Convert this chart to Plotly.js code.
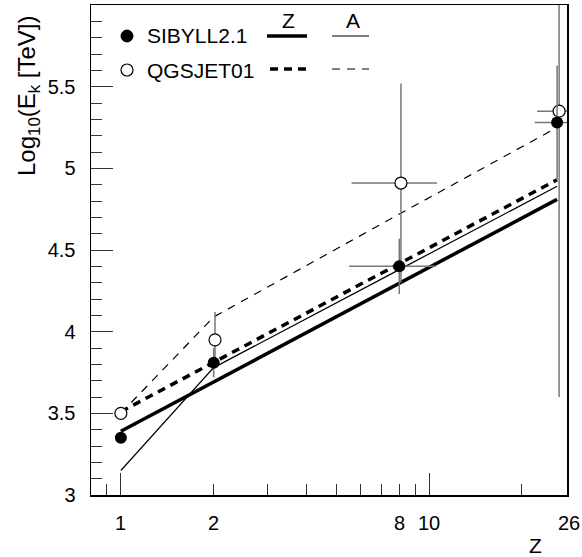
<!DOCTYPE html>
<html>
<head>
<meta charset="utf-8">
<script src="https://cdn.plot.ly/plotly-3.0.1.min.js"></script>
<style>html,body{margin:0;padding:0;background:#fff;}#chart{width:582px;height:557px;}</style>
</head>
<body>
<div id="chart"></div>
<script>
// ---- data ----
const Z = [1, 2, 8, 26];
const sibyllE = [3.35, 3.81, 4.40, 5.28];
const sibyllEerr = [0, 0.09, 0.17, 0.35];
const sibyllZerr = [0, 0, 2.5, 4];

const qgsZ = [1, 2.02, 8.1, 26.4];
const qgsE = [3.50, 3.95, 4.91, 5.35];
const qgsEerr = [0, 0.17, 0.61, 1.75];
const qgsZerr = [0, 0, 2.5, 4];

const fitZ_Z = [1, 26];
const sibyllFitZ = [3.39, 4.81];
const qgsFitZ = [3.51, 4.93];

const fitA_Z = [1, 2, 8, 26];
const sibyllFitA = [3.15, 3.78, 4.38, 4.89];
const qgsFitA = [3.50, 4.09, 4.72, 5.25];

const xTickVals = [1, 2, 8, 10, 26];
const xTickText = ['1', '2', '8', '10', '26'];
const yTickVals = [3, 3.5, 4, 4.5, 5, 5.5];
const yTickText = ['3', '3.5', '4', '4.5', '5', '5.5'];

const FONT = 'Liberation Sans, Arial, sans-serif';

const traces = [
  {x: fitZ_Z, y: sibyllFitZ, mode: 'lines', line: {color: '#000', width: 3.5}, showlegend: false},
  {x: fitZ_Z, y: qgsFitZ, mode: 'lines', line: {color: '#000', width: 3.5, dash: '8px,6px'}, showlegend: false},
  {x: fitA_Z, y: sibyllFitA, mode: 'lines', line: {color: '#000', width: 1.2}, showlegend: false},
  {x: fitA_Z, y: qgsFitA, mode: 'lines', line: {color: '#000', width: 1.2, dash: '8px,7px'}, showlegend: false},
  {x: qgsZ, y: qgsE, mode: 'markers',
   marker: {symbol: 'circle', size: 12, color: '#fff', line: {color: '#000', width: 1.2}},
   error_y: {type: 'data', array: qgsEerr, visible: true, color: '#777', thickness: 1.5, width: 0},
   error_x: {type: 'data', array: qgsZerr, visible: true, color: '#777', thickness: 1.5, width: 0},
   showlegend: false},
  {x: Z, y: sibyllE, mode: 'markers',
   marker: {symbol: 'circle', size: 12, color: '#000'},
   error_y: {type: 'data', array: sibyllEerr, visible: true, color: '#777', thickness: 1.5, width: 0},
   error_x: {type: 'data', array: sibyllZerr, visible: true, color: '#777', thickness: 1.5, width: 0},
   showlegend: false}
];

// paper coordinate helpers for legend decorations (plot area px: x 91..567, y 5..495)
const px = v => (v - 91) / 476;
const py = v => (495 - v) / 490;

const annotations = xTickVals.map((v, i) => ({
  x: Math.log10(v), y: py(523), xref: 'x', yref: 'paper',
  text: xTickText[i], showarrow: false, xanchor: 'center', yanchor: 'middle',
  xshift: v === 26 ? 12 : 0,
  font: {family: FONT, size: 20, color: '#000'}
}));

annotations.push(
  {x: px(535), y: py(545), xref: 'paper', yref: 'paper', text: 'Z', showarrow: false,
   xanchor: 'center', yanchor: 'middle', font: {family: FONT, size: 21, color: '#000'}},
  {x: px(28), y: py(96), xref: 'paper', yref: 'paper',
   text: 'Log<sub>10</sub>(E<sub>k</sub> [TeV])',
   showarrow: false, textangle: -90, xanchor: 'center', yanchor: 'middle',
   font: {family: FONT, size: 24, color: '#000'}},
  {x: px(145), y: py(36), xref: 'paper', yref: 'paper', text: 'SIBYLL2.1', showarrow: false,
   xanchor: 'left', yanchor: 'middle', font: {family: FONT, size: 21, color: '#000'}},
  {x: px(145), y: py(70), xref: 'paper', yref: 'paper', text: 'QGSJET01', showarrow: false,
   xanchor: 'left', yanchor: 'middle', font: {family: FONT, size: 21, color: '#000'}},
  {x: px(288), y: py(21), xref: 'paper', yref: 'paper', text: 'Z', showarrow: false,
   xanchor: 'center', yanchor: 'middle', font: {family: FONT, size: 21, color: '#000'}},
  {x: px(353), y: py(21), xref: 'paper', yref: 'paper', text: 'A', showarrow: false,
   xanchor: 'center', yanchor: 'middle', font: {family: FONT, size: 21, color: '#000'}}
);

const shapes = [
  {type: 'circle', xref: 'paper', yref: 'paper', xsizemode: 'pixel', ysizemode: 'pixel',
   xanchor: px(127), yanchor: py(36), x0: -6, x1: 6, y0: -6, y1: 6,
   fillcolor: '#000', line: {color: '#000', width: 1}},
  {type: 'circle', xref: 'paper', yref: 'paper', xsizemode: 'pixel', ysizemode: 'pixel',
   xanchor: px(127), yanchor: py(70), x0: -6, x1: 6, y0: -6, y1: 6,
   fillcolor: '#fff', line: {color: '#000', width: 1.2}},
  {type: 'line', xref: 'paper', yref: 'paper', x0: px(267), x1: px(307), y0: py(36), y1: py(36),
   line: {color: '#000', width: 3.5}},
  {type: 'line', xref: 'paper', yref: 'paper', x0: px(332), x1: px(369), y0: py(36), y1: py(36),
   line: {color: '#000', width: 1.2}},
  {type: 'line', xref: 'paper', yref: 'paper', x0: px(270), x1: px(307), y0: py(69), y1: py(69),
   line: {color: '#000', width: 3.5, dash: '8px,6px'}},
  {type: 'line', xref: 'paper', yref: 'paper', x0: px(332), x1: px(369), y0: py(69), y1: py(69),
   line: {color: '#000', width: 1.2, dash: '8px,7px'}}
];

const layout = {
  width: 582, height: 557,
  margin: {l: 91, r: 15, t: 5, b: 62},
  paper_bgcolor: '#fff', plot_bgcolor: '#fff',
  showlegend: false,
  font: {family: FONT, size: 20, color: '#000'},
  xaxis: {
    type: 'log', range: [Math.log10(0.8), Math.log10(28)],
    showgrid: false, zeroline: false,
    showline: true, mirror: true, linecolor: '#000', linewidth: 1.5,
    tickmode: 'array', tickvals: [1, 10], ticks: 'inside', ticklen: 22,
    tickcolor: '#333', tickwidth: 1, showticklabels: false,
    minor: {tickmode: 'array', tickvals: [0.9, 2, 3, 4, 5, 6, 7, 8, 9, 20],
            ticks: 'inside', ticklen: 11, tickcolor: '#333', tickwidth: 1, showgrid: false}
  },
  yaxis: {
    range: [3, 6],
    showgrid: false, zeroline: false,
    showline: true, mirror: true, linecolor: '#000', linewidth: 1.5,
    tickmode: 'array', tickvals: yTickVals, ticktext: yTickText,
    ticks: 'inside', ticklen: 22, tickcolor: '#333', tickwidth: 1,
    ticklabelstandoff: 10,
    tickfont: {family: FONT, size: 20, color: '#000'},
    minor: {dtick: 0.1, ticks: 'inside', ticklen: 11, tickcolor: '#333', tickwidth: 1, showgrid: false}
  },
  annotations: annotations,
  shapes: shapes
};

Plotly.newPlot('chart', traces, layout, {displayModeBar: false, staticPlot: true});
</script>
</body>
</html>
